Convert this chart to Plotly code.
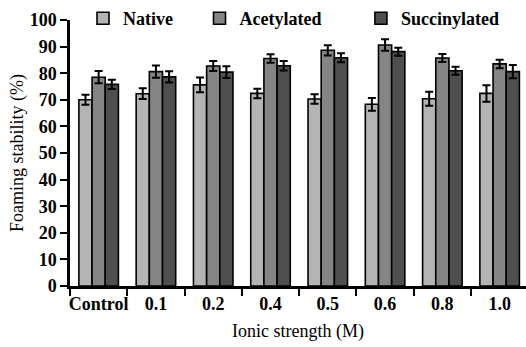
import plotly.graph_objects as go

# Ionic strength levels and foaming stability (%) of the three protein forms
categories = ["Control", "0.1", "0.2", "0.4", "0.5", "0.6", "0.8", "1.0"]
native = [70.0, 72.3, 75.6, 72.4, 70.3, 68.3, 70.4, 72.4]
native_err = [1.9, 2.0, 2.8, 1.8, 1.8, 2.4, 2.6, 3.1]
acetylated = [78.5, 80.6, 82.7, 85.5, 88.6, 90.6, 85.7, 83.5]
acetylated_err = [2.3, 2.3, 1.9, 1.6, 1.9, 2.2, 1.5, 1.6]
succinylated = [75.8, 78.6, 80.4, 82.8, 85.8, 88.1, 80.9, 80.6]
succinylated_err = [1.7, 2.1, 2.2, 1.8, 1.7, 1.5, 1.5, 2.5]
y_ticks = list(range(0, 101, 10))

series = [
    ("Native", native, native_err, "#b4b4b4", "legend", 0.0285),
    ("Acetylated", acetylated, acetylated_err, "#858585", "legend2", 0.284),
    ("Succinylated", succinylated, succinylated_err, "#4f4f4f", "legend3", 0.638),
]

serif = "Liberation Serif"

fig = go.Figure()
legend_layout = {}
for name, vals, errs, color, leg, lx in series:
    fig.add_trace(go.Bar(
        x=categories, y=vals, name="<b>%s</b>" % name, legend=leg, showlegend=True,
        marker=dict(color=color, line=dict(color="black", width=1.6)),
        error_y=dict(type="data", array=errs, color="black", thickness=2, width=4),
    ))
    legend_layout[leg] = dict(
        x=lx, xanchor="left", y=1.076, yanchor="top",
        orientation="h", bgcolor="rgba(0,0,0,0)",
        font=dict(family=serif, size=18, color="black"),
        itemwidth=30, visible=True,
    )

fig.update_layout(
    width=526, height=347,
    margin=dict(l=70, r=0, t=10, b=61),
    paper_bgcolor="white", plot_bgcolor="white",
    barmode="group", bargap=0.31, bargroupgap=0,
    showlegend=True,
    font=dict(family=serif, color="black"),
    **legend_layout,
)

fig.update_xaxes(
    range=[-0.5, 7.46], tickson="boundaries", tickangle=0,
    tickvals=categories, ticktext=["<b>%s</b>" % c for c in categories],
    ticks="outside", ticklen=7, tickwidth=2, tickcolor="black",
    showline=True, linecolor="black", linewidth=2.5,
    showgrid=False, zeroline=False,
    tickfont=dict(family=serif, size=18, color="black"),
    title=dict(text="Ionic strength (M)", standoff=12,
               font=dict(family=serif, size=18, color="black")),
)
fig.update_yaxes(
    range=[0, 100], tickvals=y_ticks, ticktext=["<b>%d</b>" % t for t in y_ticks],
    ticks="outside", ticklen=7, tickwidth=2, tickcolor="black",
    showline=True, linecolor="black", linewidth=2.5,
    showgrid=False, zeroline=False,
    tickfont=dict(family=serif, size=18, color="black"),
    title=dict(text="Foaming stability (%)", standoff=2,
               font=dict(family=serif, size=18, color="black")),
)

fig.write_html("out.html")
